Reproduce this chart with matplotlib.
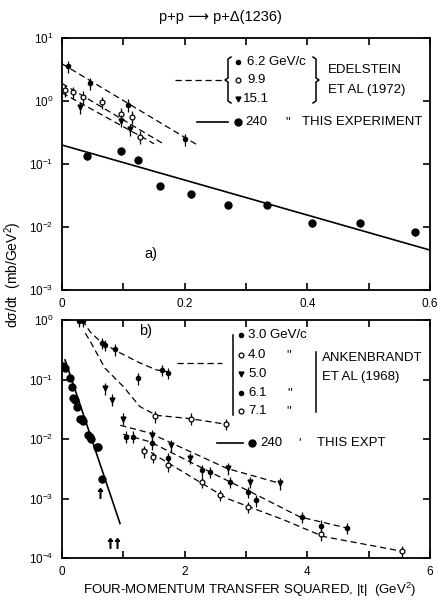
import matplotlib
matplotlib.use("Agg")
import matplotlib.pyplot as plt
from matplotlib.lines import Line2D
from matplotlib.ticker import NullLocator

plt.rcParams['font.family'] = ['Liberation Sans', 'DejaVu Sans']
plt.rcParams['mathtext.default'] = 'regular'

# ---- a) Edelstein et al (1972) + 240 GeV/c, small |t| ----
ed62_t = [0.010, 0.046, 0.107, 0.200]
ed62_v = [3.6, 1.9, 0.87, 0.245]
ed99_t = [0.005, 0.018, 0.035, 0.065, 0.097, 0.114, 0.127]
ed99_v = [1.48, 1.39, 1.16, 0.96, 0.63, 0.56, 0.27]
ed151_t = [0.029, 0.097, 0.111]
ed151_v = [0.80, 0.49, 0.36]

ed62_fit_t, ed62_fit_v = [0.0, 0.222], [3.9, 0.197]
ed99_fit_t, ed99_fit_v = [0.0, 0.165], [1.9, 0.21]
ed151_fit_t, ed151_fit_v = [0.0, 0.150], [1.35, 0.21]

exp_a_t = [0.040, 0.097, 0.124, 0.160, 0.211, 0.270, 0.335, 0.407, 0.486, 0.576]
exp_a_v = [0.133, 0.16, 0.116, 0.045, 0.033, 0.0223, 0.0226, 0.0115, 0.0115, 0.0082]
exp_a_fit_t, exp_a_fit_v = [0.0, 0.6], [0.2, 0.0043]

# ---- b) Ankenbrandt et al (1968) + 240 GeV/c, large |t| ----
an30_t = [0.28, 0.34, 0.65, 0.70, 0.86, 1.24, 1.63, 1.73]
an30_v = [0.97, 0.97, 0.41, 0.38, 0.32, 0.105, 0.145, 0.13]
an40_t = [1.52, 2.11, 2.68]
an40_v = [0.024, 0.022, 0.018]
an50_t = [0.70, 0.81, 1.00, 1.46, 1.77, 2.09, 2.71, 3.07, 3.55]
an50_v = [0.071, 0.046, 0.022, 0.0117, 0.0079, 0.0048, 0.0032, 0.0019, 0.0018]
an61_t = [1.05, 1.16, 1.46, 1.73, 2.28, 2.41, 2.74, 3.04, 3.17, 3.91, 4.23, 4.64]
an61_v = [0.011, 0.011, 0.0085, 0.0048, 0.0030, 0.0028, 0.0019, 0.0013, 0.00093,
          0.00049, 0.00035, 0.00032]
an71_t = [1.33, 1.49, 1.73, 2.28, 2.58, 3.04, 4.23, 5.54]
an71_v = [0.0062, 0.0050, 0.0036, 0.0019, 0.00115, 0.00072, 0.00025, 0.00013]

an30_curve_t = [0.33, 0.46, 0.62, 0.89, 1.27, 1.54, 1.73]
an30_curve_v = [1.0, 0.63, 0.44, 0.30, 0.19, 0.145, 0.135]
an40_curve_t = [0.38, 0.46, 0.70, 1.00, 1.27, 1.54, 2.09, 2.63]
an40_curve_v = [0.6, 0.44, 0.155, 0.076, 0.035, 0.025, 0.022, 0.018]
an50_curve_t = [0.95, 1.43, 2.69, 3.55]
an50_curve_v = [0.017, 0.0126, 0.0032, 0.0018]
an61_curve_t = [1.00, 1.43, 2.74, 3.07, 3.88, 4.64]
an61_curve_v = [0.012, 0.009, 0.0019, 0.0013, 0.00049, 0.00032]
an71_curve_t = [1.30, 1.43, 2.69, 3.61, 4.26, 5.54]
an71_curve_v = [0.0068, 0.0061, 0.0010, 0.00044, 0.00023, 0.00013]

exp_b_t = [0.02, 0.05, 0.13, 0.16, 0.18, 0.21, 0.24, 0.29, 0.32, 0.34, 0.43, 0.46,
           0.48, 0.57, 0.59, 0.66]
exp_b_v = [0.17, 0.155, 0.107, 0.076, 0.049, 0.045, 0.035, 0.022, 0.022, 0.020,
           0.0117, 0.011, 0.010, 0.0074, 0.0074, 0.0021]
exp_b_lim_t = [0.62, 0.78, 0.89]
exp_b_lim_v = [0.00125, 0.00018, 0.00018]
exp_b_fit_t, exp_b_fit_v = [0.05, 0.946], [0.213, 0.00038]

W, H = 438, 608


def fx(x):
    return x / W


def fy(y):
    return 1 - y / H


fig = plt.figure(figsize=(W / 100, H / 100), dpi=100)

ax_a = fig.add_axes([fx(62), fy(290), (430 - 62) / W, (290 - 38) / H])
ax_b = fig.add_axes([fx(62), fy(558), (430 - 62) / W, (558 - 320) / H])

STYLES = {
    'dot': dict(marker='o', ms=3, mfc='k', mec='k'),
    'open': dict(marker='o', ms=3.5, mfc='white', mec='k', mew=0.9),
    'tri': dict(marker='v', ms=3.5, mfc='k', mec='k'),
    'big': dict(marker='o', ms=5, mfc='k', mec='k'),
}


def points(ax, t, v, style, err=0.22):
    yerr = [[x * err for x in v], [x * err for x in v]]
    ax.errorbar(t, v, yerr=yerr, fmt='none', ecolor='k', elinewidth=0.9, capsize=0)
    ax.plot(t, v, ls='none', **STYLES[style])


def frame(ax):
    ax.set_yscale('log')
    for s in ax.spines.values():
        s.set_linewidth(1.3)
    ax.yaxis.set_minor_locator(NullLocator())
    ax.tick_params(which='both', direction='in', top=True, right=True,
                   length=5, width=1.2, labelsize=8.5, pad=6)


# panel a
ax = ax_a
for t, v in [(ed62_fit_t, ed62_fit_v), (ed99_fit_t, ed99_fit_v), (ed151_fit_t, ed151_fit_v)]:
    ax.plot(t, v, color='k', ls=(0, (5, 3)), lw=0.9)
ax.plot(exp_a_fit_t, exp_a_fit_v, color='k', lw=1.2)
points(ax, ed62_t, ed62_v, 'dot')
points(ax, ed99_t, ed99_v, 'open')
points(ax, ed151_t, ed151_v, 'tri')
points(ax, exp_a_t, exp_a_v, 'big', err=0.12)
frame(ax)
ax.set_xlim(0, 0.6)
ax.set_ylim(1e-3, 1e1)
ax.set_xticks([0, 0.2, 0.4, 0.6], ['0', '0.2', '0.4', '0.6'])
ax.set_xticks([0.1, 0.3, 0.5], minor=True)
ax.set_yticks([1e1, 1e0, 1e-1, 1e-2, 1e-3],
              ['10$^{1}$', '10$^{0}$', '10$^{-1}$', '10$^{-2}$', '10$^{-3}$'])
ax.text(0.135, 0.0032, 'a)', fontsize=10.5)

# panel b
ax = ax_b
for t, v in [(an30_curve_t, an30_curve_v), (an40_curve_t, an40_curve_v),
             (an50_curve_t, an50_curve_v), (an61_curve_t, an61_curve_v),
             (an71_curve_t, an71_curve_v)]:
    ax.plot(t, v, color='k', ls=(0, (5, 3)), lw=0.9)
ax.plot(exp_b_fit_t, exp_b_fit_v, color='k', lw=1.2)
points(ax, an30_t, an30_v, 'dot')
points(ax, an40_t, an40_v, 'open')
points(ax, an50_t, an50_v, 'tri')
points(ax, an61_t, an61_v, 'dot')
points(ax, an71_t, an71_v, 'open')
points(ax, exp_b_t, exp_b_v, 'big', err=0.12)
ax.plot(exp_b_lim_t, exp_b_lim_v, ls='none', marker=r'$\uparrow$', ms=7, color='k')
frame(ax)
ax.set_xlim(0, 6)
ax.set_ylim(1e-4, 1e0)
ax.set_xticks([0, 2, 4, 6])
ax.set_xticks([1, 3, 5], minor=True)
ax.set_yticks([1e0, 1e-1, 1e-2, 1e-3, 1e-4],
              ['10$^{0}$', '10$^{-1}$', '10$^{-2}$', '10$^{-3}$', '10$^{-4}$'])
ax.text(1.25, 0.55, 'b)', fontsize=10.5)


# hand-made key, laid out in figure pixels
def seg(xs, ys, **kw):
    fig.add_artist(Line2D([fx(x) for x in xs], [fy(y) for y in ys], color='k',
                          transform=fig.transFigure, **kw))


def mark(x, y, style):
    fig.add_artist(Line2D([fx(x)], [fy(y)], ls='none', transform=fig.transFigure,
                          **STYLES[style]))


def label(x, y, s, **kw):
    fig.text(fx(x), fy(y), s, fontsize=9.5, va='center', **kw)


def brace(x, y0, y1, d):
    ym = (y0 + y1) / 2
    seg([x + 3 * d, x, x, x - 3 * d, x, x, x + 3 * d],
        [y0, y0 + 2, ym - 2, ym, ym + 2, y1 - 2, y1], lw=1.1)


# a)
seg([175, 223], [80, 80], lw=0.9, ls=(0, (5, 3)))
brace(228, 57, 103, 1)
mark(238, 62, 'dot')
label(247, 62, '6.2 GeV/c')
mark(238, 80, 'open')
label(247, 80, '9.9')
mark(238, 99, 'tri')
label(243, 99, '15.1')
brace(316, 57, 103, -1)
label(328, 70, 'EDELSTEIN')
label(328, 90, 'ET AL (1972)')
seg([197, 228], [122, 122], lw=1.2)
mark(238, 122, 'big')
label(245, 122, '240')
label(285, 122, '"')
label(302, 122, 'THIS EXPERIMENT')

# b)
seg([177, 222], [363, 363], lw=0.9, ls=(0, (5, 3)))
seg([233, 233], [335, 415], lw=1.1)
mark(241, 335, 'dot')
label(248, 335, '3.0 GeV/c')
mark(241, 355, 'open')
label(248, 355, '4.0')
label(286, 355, '"')
mark(241, 374, 'tri')
label(248, 374, '5.0')
mark(241, 393, 'dot')
label(248, 393, '6.1')
label(287, 393, '"')
mark(241, 411, 'open')
label(248, 411, '7.1')
label(286, 411, '"')
seg([316, 316], [352, 412], lw=1.1)
label(322, 358, 'ANKENBRANDT')
label(322, 377, 'ET AL (1968)')
seg([217, 243], [443, 443], lw=1.2)
mark(252, 443, 'big')
label(260, 443, '240')
label(298, 443, "'")
label(317, 443, 'THIS EXPT')

fig.text(fx(220), fy(17), 'p+p \u27f6 p+\u0394(1236)', ha='center', va='center',
         fontsize=10.5)
fig.text(fx(13), fy(275), 'd\u03c3/dt  (mb/GeV$^{2}$)', rotation=90, ha='center',
         va='center', fontsize=10)
fig.text(fx(250), fy(590), 'FOUR-MOMENTUM TRANSFER SQUARED, |t|  (GeV$^{2}$)',
         ha='center', va='center', fontsize=9.5)

fig.savefig('out.png', dpi=100)
